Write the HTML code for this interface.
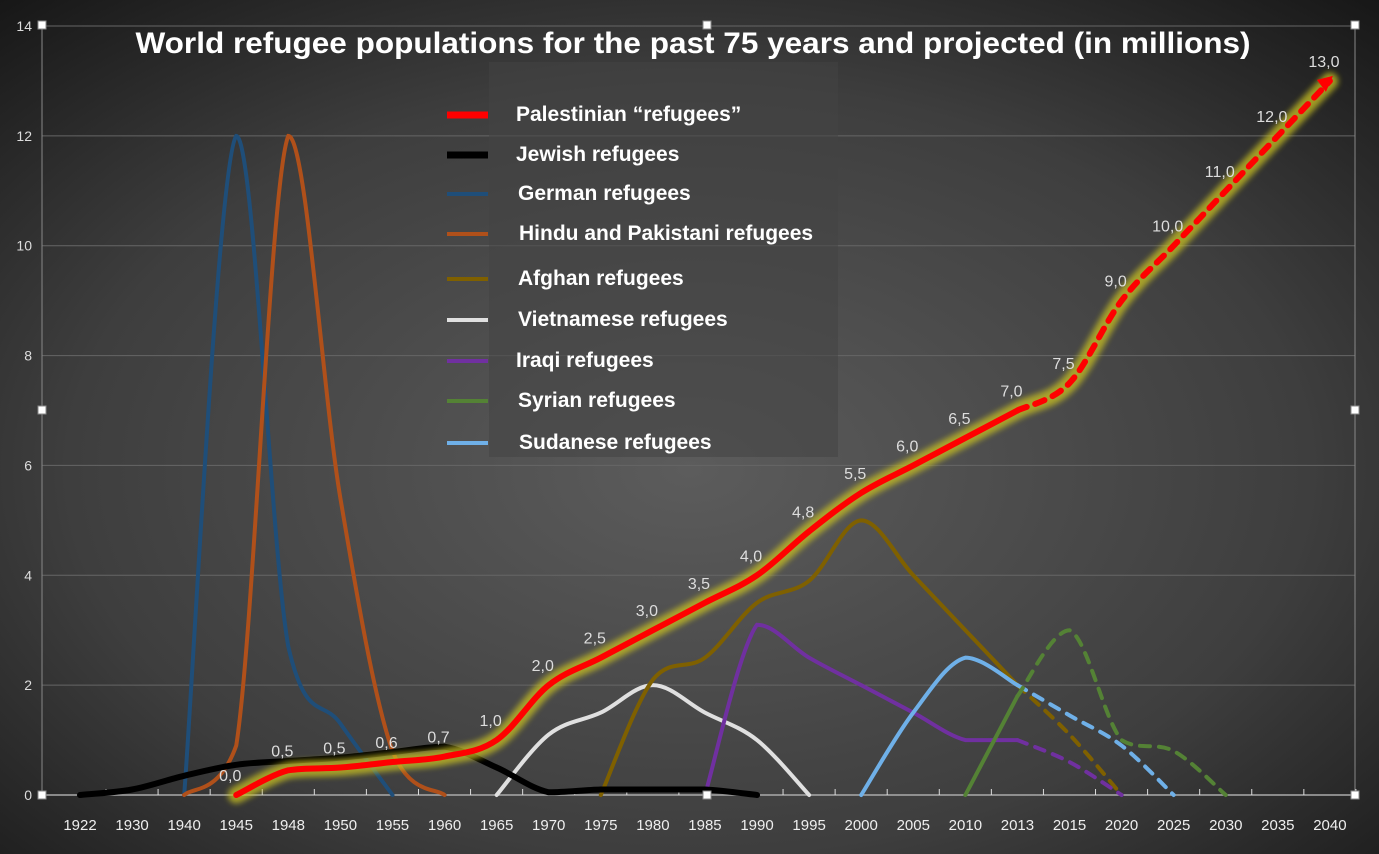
<!DOCTYPE html>
<html><head><meta charset="utf-8"><style>
html,body{margin:0;padding:0;background:#222;}
svg{display:block;font-family:"Liberation Sans",sans-serif;}
</style></head><body>
<svg id="chart" width="1379" height="854" viewBox="0 0 1379 854">
<defs>
<radialGradient id="bg" cx="0.5" cy="0.55" r="0.75">
<stop offset="0" stop-color="#5c5c5c"/><stop offset="0.6" stop-color="#3e3e3e"/><stop offset="1" stop-color="#161616"/>
</radialGradient>
<filter id="glow" x="-5%" y="-5%" width="110%" height="110%"><feGaussianBlur stdDeviation="3"/></filter>
</defs>
<rect width="1379" height="854" fill="url(#bg)"/>
<g id="grid"></g>
<g id="series"></g>
<g id="labels"></g>
<rect x="489" y="62" width="349" height="395" fill="#444" opacity="0.55"/>
<g id="legend"></g>
<text x="693" y="53" text-anchor="middle" fill="#fff" font-weight="bold" font-size="30" textLength="1115" lengthAdjust="spacingAndGlyphs">World refugee populations for the past 75 years and projected (in millions)</text>
<g id="handles"></g>
</svg>
<script>
const categories=["1922","1930","1940","1945","1948","1950","1955","1960","1965","1970","1975","1980","1985","1990","1995","2000","2005","2010","2013","2015","2020","2025","2030","2035","2040"];
const yTicks=[0,2,4,6,8,10,12,14];
const palestinian=[null,null,null,0,0.45,0.5,0.6,0.7,1.0,2.0,2.5,3.0,3.5,4.0,4.8,5.5,6.0,6.5,7.0,7.5,9.0,10,11,12,13];
const palestinianLabels=[null,null,null,"0,0","0,5","0,5","0,6","0,7","1,0","2,0","2,5","3,0","3,5","4,0","4,8","5,5","6,0","6,5","7,0","7,5","9,0","10,0","11,0","12,0","13,0"];
const jewish=[0,0.1,0.35,0.55,0.62,0.68,0.78,0.88,0.5,0.05,0.1,0.1,0.1,0.0,null,null,null,null,null,null,null,null,null,null,null];
const german=[null,null,0,12,2.7,1.3,0,null,null,null,null,null,null,null,null,null,null,null,null,null,null,null,null,null,null];
const hindu=[null,null,0,0.9,12,5.4,0.8,0,null,null,null,null,null,null,null,null,null,null,null,null,null,null,null,null,null];
const afghan=[null,null,null,null,null,null,null,null,null,null,0,2.1,2.5,3.5,3.9,5.0,4.0,3.0,2.0,1.1,0,null,null,null,null];
const vietnamese=[null,null,null,null,null,null,null,null,0,1.1,1.5,2.0,1.5,1.0,0,null,null,null,null,null,null,null,null,null,null];
const iraqi=[null,null,null,null,null,null,null,null,null,null,null,null,0,3.1,2.5,2.0,1.5,1.0,1.0,0.6,0,null,null,null,null];
const syrian=[null,null,null,null,null,null,null,null,null,null,null,null,null,null,null,null,null,0,1.8,3.0,1.0,0.8,0,null,null];
const sudanese=[null,null,null,null,null,null,null,null,null,null,null,null,null,null,null,0,1.5,2.5,2.0,1.45,0.9,0,null,null,null];
const NS="http://www.w3.org/2000/svg";
const X0=80,DX=52.08,Y0=795,YS=769/14;
const xs=i=>X0+i*DX, ys=v=>Y0-v*YS;
function mk(tag,attrs,parent){const e=document.createElementNS(NS,tag);for(const k in attrs)e.setAttribute(k,attrs[k]);parent.appendChild(e);return e;}
const grid=document.getElementById('grid');
yTicks.forEach(t=>{
 if(t>0){const l=mk('line',{x1:42,x2:1355,y1:ys(t),y2:ys(t),stroke:'#666','stroke-width':1},grid);
 
 }
 const tx=mk('text',{x:32,y:ys(t)+5,'text-anchor':'end',fill:'#ddd','font-size':14},grid);tx.textContent=t;
 
 
});
mk('line',{x1:42,x2:42,y1:25,y2:795,stroke:'#888'},grid);
mk('line',{x1:1355,x2:1355,y1:25,y2:795,stroke:'#888'},grid);
mk('line',{x1:42,x2:1355,y1:795,y2:795,stroke:'#aaa','stroke-width':1.5},grid);
categories.forEach((c,i)=>{
 mk('line',{x1:xs(i)+26,x2:xs(i)+26,y1:789,y2:795,stroke:'#ddd'},grid);
 const t=mk('text',{x:xs(i),y:830,'text-anchor':'middle',fill:'#eee','font-size':15},grid);t.textContent=c;
 
 
});
function clamp(v,a,b){const lo=Math.min(a,b),hi=Math.max(a,b);return Math.max(lo,Math.min(hi,v));}
function pathFrom(pts){
 if(pts.length<2)return '';
 let d=`M${pts[0][0]},${pts[0][1]}`;
 for(let i=0;i<pts.length-1;i++){
  const p0=pts[i-1]||pts[i],p1=pts[i],p2=pts[i+1],p3=pts[i+2]||p2;
  const t=0.17;
  const c1=[p1[0]+(p2[0]-p0[0])*t,clamp(p1[1]+(p2[1]-p0[1])*t,p1[1],p2[1])];
  const c2=[p2[0]-(p3[0]-p1[0])*t,clamp(p2[1]-(p3[1]-p1[1])*t,p1[1],p2[1])];
  d+=`C${c1[0]},${c1[1]} ${c2[0]},${c2[1]} ${p2[0]},${p2[1]}`;
 }
 return d;
}
const sg=document.getElementById('series');
function drawSeries(name,data,color,width,dashFrom,glow){
 const pts=[];data.forEach((v,i)=>{if(v!==null)pts.push([xs(i),ys(v),i]);});
 const solid=pts.filter(p=>dashFrom==null||p[2]<=dashFrom);
 const dashed=dashFrom==null?[]:pts.filter(p=>p[2]>=dashFrom);
 if(glow){mk('path',{d:pathFrom(pts),fill:'none',stroke:'#c8c020','stroke-width':17,opacity:0.75,filter:'url(#glow)','stroke-linecap':'round'},sg);}
 const a=mk('path',{d:pathFrom(solid),fill:'none',stroke:color,'stroke-width':width,'stroke-linecap':'round'},sg);
 
 
 if(dashed.length>1){const b=mk('path',{d:pathFrom(dashed),fill:'none',stroke:color,'stroke-width':width,'stroke-dasharray':'10 9','stroke-linecap':'round'},sg);
 
 }
}
drawSeries('german',german,'#1f4e79',4);
drawSeries('hindu',hindu,'#b0501a',4);
drawSeries('vietnamese',vietnamese,'#e0e0e0',4);
drawSeries('afghan',afghan,'#7f6000',4,18);
drawSeries('iraqi',iraqi,'#7030a0',4,18);
drawSeries('sudanese',sudanese,'#6fb0e8',4,18);
drawSeries('syrian',syrian,'#548235',4,18);
drawSeries('jewish',jewish,'#000',6);
drawSeries('palestinian',palestinian,'#ff0000',6,18,true);
const n=palestinian.length-1;
const ax=xs(n),ay=ys(palestinian[n]);
const ar=mk('polygon',{points:`${ax+3},${ay-5} ${ax-13},${ay-1} ${ax-4},${ay+11}`,fill:'#ff0000'},sg);


const lg=document.getElementById('labels');
palestinianLabels.forEach((l,i)=>{if(!l)return;
 const t=mk('text',{x:xs(i)-6,y:ys(palestinian[i])-14,'text-anchor':'middle',fill:'#ddd','font-size':16},lg);t.textContent=l;
 
 
});
const legendItems=[["Palestinian \u201crefugees\u201d","#ff0000",113,6,0],["Jewish  refugees","#000",153,6,0],["German refugees","#1f4e79",192,3,2],["Hindu and Pakistani refugees","#b0501a",232,3,3],["Afghan refugees","#7f6000",277,3,2],["Vietnamese refugees","#e0e0e0",318,3,2],["Iraqi refugees","#7030a0",359,3,0],["Syrian refugees","#548235",399,3,2],["Sudanese refugees","#6fb0e8",441,3,3]];
const lgd=document.getElementById('legend');
legendItems.forEach(it=>{
 const g=mk('g',{},lgd);
 
 
 mk('line',{x1:447,x2:488,y1:it[2]+2,y2:it[2]+2,stroke:it[1],'stroke-width':it[3]+1},g);
 const t=mk('text',{x:516+it[4],y:it[2]+8,fill:'#fff','font-size':21,'font-weight':'bold'},g);t.textContent=it[0];
});
const hg=document.getElementById('handles');
[[42,25],[707,25],[1355,25],[42,410],[1355,410],[42,795],[707,795],[1355,795]].forEach(p=>{
 const r=mk('rect',{x:p[0]-4,y:p[1]-4,width:8,height:8,fill:'#fff',stroke:'#888'},hg);
 
 
});
</script>
</body></html>
